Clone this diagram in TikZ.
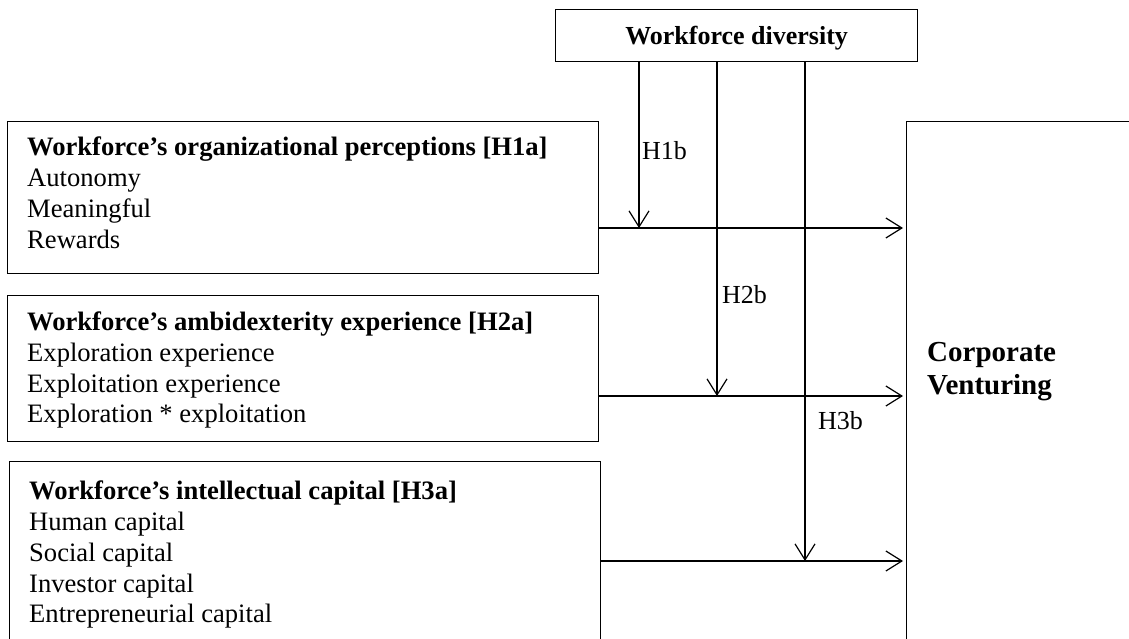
\documentclass[tikz,border=0pt]{standalone}
\usepackage{fontspec}
\setmainfont{Liberation Serif}
\usetikzlibrary{arrows.meta}
\begin{document}
\begin{tikzpicture}[x=1pt,y=-1pt,
  box/.style={draw, line width=1.2pt, inner sep=0pt, anchor=north west, rectangle},
  txt/.style={inner sep=0pt, anchor=base west, font=\fontsize{26.6}{31}\selectfont},
  lab/.style={inner sep=0pt, anchor=base west, font=\fontsize{26}{31}\selectfont},
  big/.style={inner sep=0pt, anchor=base west, font=\fontsize{29}{33}\selectfont\bfseries},
  arr/.style={line width=1.2pt, -{Straight Barb[length=16pt,width=20pt,line width=1.2pt]}}
]
\clip (0,0) rectangle (1129,639);
% boxes
\node[box, minimum width=362pt, minimum height=52pt, text depth=0pt,
      font=\fontsize{26}{31}\selectfont\bfseries] (wd) at (555,9) {Workforce diversity};
\node[box, minimum width=591pt, minimum height=152pt] (b1) at (7,121) {};
\node[box, minimum width=591pt, minimum height=146pt] (b2) at (7,295) {};
\node[box, minimum width=591pt, minimum height=200pt] (b3) at (9,461) {};
\node[box, minimum width=260pt, minimum height=540pt] (cv) at (906,121) {};
% box texts
\node[txt] (b1t0) at (27,156) {\textbf{Workforce’s organizational perceptions [H1a]}};
\node[txt] (b1t1) at (27,187) {Autonomy};
\node[txt] (b1t2) at (27,217) {Meaningful};
\node[txt] (b1t3) at (27,248) {Rewards};
\node[txt] (b2t0) at (27,330) {\textbf{Workforce’s ambidexterity experience [H2a]}};
\node[txt] (b2t1) at (27,361) {Exploration experience};
\node[txt] (b2t2) at (27,392) {Exploitation experience};
\node[txt] (b2t3) at (27,422) {Exploration * exploitation};
\node[txt] (b3t0) at (29,499) {\textbf{Workforce’s intellectual capital [H3a]}};
\node[txt] (b3t1) at (29,530) {Human capital};
\node[txt] (b3t2) at (29,561) {Social capital};
\node[txt] (b3t3) at (29,592) {Investor capital};
\node[txt] (b3t4) at (29,622) {Entrepreneurial capital};
\node[big] (cv1) at (927,361) {Corporate};
\node[big] (cv2) at (927,394) {Venturing};
% moderation points
\coordinate (m1) at (639,228);
\coordinate (m2) at (717,396);
\coordinate (m3) at (805,561);
% connectors
\draw[arr] (b1.east |- m1) -- ([xshift=-3pt]cv.west |- m1);
\draw[arr] (b2.east |- m2) -- ([xshift=-3pt]cv.west |- m2);
\draw[arr] (b3.east |- m3) -- ([xshift=-3pt]cv.west |- m3);
\draw[arr] (wd.south -| m1) -- (m1);
\draw[arr] (wd.south -| m2) -- (m2);
\draw[arr] (wd.south -| m3) -- (m3);
% labels
\node[lab] (h1) at (642,160) {H1b};
\node[lab] (h2) at (722,303) {H2b};
\node[lab] (h3) at (818,429) {H3b};
\end{tikzpicture}
\end{document}
